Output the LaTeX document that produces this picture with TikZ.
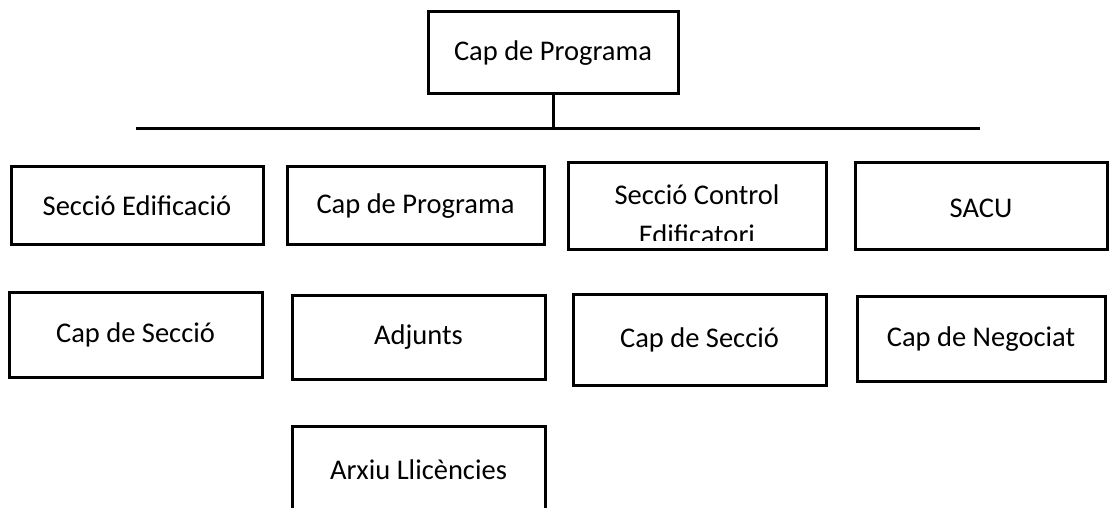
\documentclass[tikz,border=0pt]{standalone}
\usepackage{fontspec}
\setmainfont{Carlito}
\begin{document}
\begin{tikzpicture}[x=0.5pt,y=-0.5pt,
  box/.style={draw=black, line width=1.5pt, rectangle, inner sep=0pt, fill=white},
  lbl/.style={font=\fontsize{14.25}{20.5}\selectfont, inner sep=0pt, align=center},
  conn/.style={draw=black, line width=1.5pt}]
\useasboundingbox[fill=white] (0,0) rectangle (1110,508);
% top
\node[box, minimum width=125pt, minimum height=41pt] (top) at (553,53) {};
\node[lbl] (topt) at (553,53) {Cap de Programa};
\coordinate (j) at (553,129);
\coordinate (hl) at (136,129);
\coordinate (hr) at (980,129);
\draw[conn] (top.south) -- (j);
\draw[conn] (hl) -- (hr);
% row 1
\node[box, minimum width=126pt, minimum height=39pt] (a) at (137,206) {};
\node[lbl] (at) at (137,206) {Secció Edificació};
\node[box, minimum width=128.5pt, minimum height=39pt] (b) at (415.5,206) {};
\node[lbl] (bt) at (415.5,206) {Cap de Programa};
\node[box, minimum width=129pt, minimum height=43.5pt] (c) at (697,206.5) {};
\begin{scope}
\clip (570,165) rectangle (824,241);
\node[lbl, anchor=base] (ct) at (697,245) {Secció Control\\Edificatori};
\end{scope}
\node[box, minimum width=126pt, minimum height=43.5pt] (d) at (981,206.5) {};
\node[lbl] (dt) at (981,208) {SACU};
% row 2
\node[box, minimum width=126.5pt, minimum height=42pt] (e) at (135.5,335) {};
\node[lbl] (et) at (135.5,335) {Cap de Secció};
\node[box, minimum width=126.5pt, minimum height=41.5pt] (f) at (418.5,337.5) {};
\node[lbl] (ft) at (418.5,337.5) {Adjunts};
\node[box, minimum width=126.5pt, minimum height=45pt] (g) at (699.5,340) {};
\node[lbl] (gt) at (699.5,340) {Cap de Secció};
\node[box, minimum width=124pt, minimum height=42pt] (h) at (981,339) {};
\node[lbl] (ht) at (981,339) {Cap de Negociat};
% row 3
\node[box, minimum width=126.5pt, minimum height=44pt] (i) at (418.5,470) {};
\node[lbl] (it) at (418.5,470) {Arxiu Llicències};
\end{tikzpicture}
\end{document}
